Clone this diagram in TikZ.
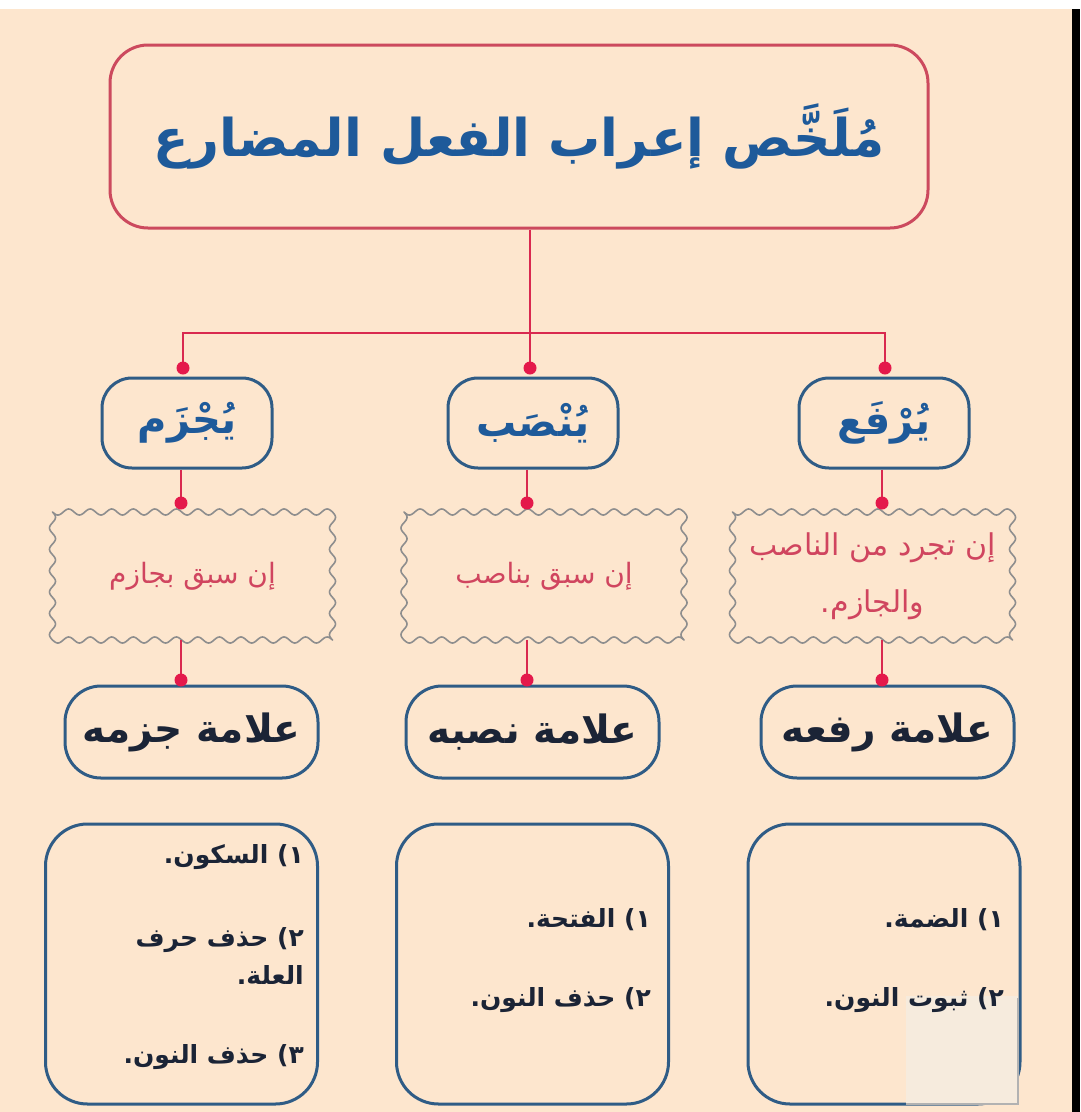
\documentclass[tikz,border=0pt]{standalone}
\usepackage{fontspec}
\newfontfamily\arabicfont[Script=Arabic]{DejaVu Sans}
\TeXXeTstate=1
\newcommand{\artext}[1]{\beginR #1\endR}
\definecolor{beige}{HTML}{FDE6CE}
\definecolor{patchc}{HTML}{F6EBDD}
\definecolor{titlered}{HTML}{CC4A5E}
\definecolor{linered}{HTML}{D9294F}
\definecolor{dotred}{HTML}{E4194B}
\definecolor{bblue}{HTML}{2F5C86}
\definecolor{titleblue}{HTML}{1E5A9A}
\definecolor{wgray}{HTML}{8E8E8E}
\definecolor{wtext}{HTML}{D0455F}
\definecolor{dark}{HTML}{1B2436}
\tikzset{
  titlebox/.style={draw=titlered, line width=3pt, rounded corners=38pt, minimum width=818pt, minimum height=183pt, inner sep=0pt, text=titleblue, font=\arabicfont\bfseries\fontsize{52}{60}\selectfont},
  verbbox/.style={draw=bblue, line width=3pt, rounded corners=30pt, minimum width=170pt, minimum height=90pt, inner sep=0pt, text=titleblue, font=\arabicfont\bfseries\fontsize{40}{44}\selectfont},
  wavybox/.style={minimum width=280pt, minimum height=128pt, inner sep=0pt, text=wtext, align=center},
  wavyline/.style={draw=wgray, line width=1.6pt, line join=round},
  markbox/.style={draw=bblue, line width=3pt, rounded corners=36pt, minimum width=253pt, minimum height=92pt, inner sep=0pt, text=dark, font=\arabicfont\bfseries\fontsize{39}{44}\selectfont},
  listbox/.style={draw=bblue, line width=3pt, rounded corners=42pt, minimum width=272pt, minimum height=280pt, inner sep=0pt},
  listtext/.style={anchor=east, inner sep=0pt, text=dark, font=\arabicfont\bfseries\fontsize{25}{30}\selectfont},
  conn/.style={draw=linered, line width=2.6pt},
  dot/.style={circle, fill=dotred, inner sep=0pt, minimum size=13pt}
}
% wavy frame of 280 x 128 centred on (#1,#2); 13 waves across, 6 waves down
\newcommand{\wavyframe}[2]{%
  \draw[wavyline]
    plot[domain=0:280, samples=281] ({#1-140+\x}, {#2-64+3*sin(16.7142857*\x)})
    -- plot[domain=0:128, samples=129] ({#1+140+3*sin(16.875*\x)}, {#2-64+\x})
    -- plot[domain=280:0, samples=281] ({#1-140+\x}, {#2+64+3*sin(16.7142857*\x)})
    -- plot[domain=128:0, samples=129] ({#1-140+3*sin(16.875*\x)}, {#2-64+\x}) -- cycle;}
\begin{document}
\begin{tikzpicture}[x=1pt,y=-1pt]
\useasboundingbox (0,0) rectangle (1080,1112);
\fill[white] (0,0) rectangle (1080,9);
\fill[beige] (0,9) rectangle (1072,1112);
\fill[black] (1072,9) rectangle (1080,1112);

% title
\node[titlebox] (title) at (519,136.5) {\artext{مُلَخَّص إعراب الفعل المضارع}};

% level 2 boxes
\node[verbbox] (jazm) at (187,423) {\artext{يُجْزَم}};
\node[verbbox] (nasb) at (533,423) {\artext{يُنْصَب}};
\node[verbbox] (raf) at (884,423) {\artext{يُرْفَع}};

% wavy condition boxes
\wavyframe{192.5}{576}
\wavyframe{544}{576}
\wavyframe{872.5}{576}
\node[wavybox, font=\arabicfont\fontsize{28}{34}\selectfont] (cjazm) at (192.5,576) {\artext{إن سبق بجازم}};
\node[wavybox, font=\arabicfont\fontsize{28}{34}\selectfont] (cnasb) at (544,576) {\artext{إن سبق بناصب}};
\node[wavybox, font=\arabicfont\fontsize{30}{57}\selectfont] (craf) at (872.5,576) {\artext{إن تجرد من الناصب}\\\artext{والجازم.}};

% mark boxes
\node[markbox] (mjazm) at (191.5,732) {\artext{علامة جزمه}};
\node[markbox] (mnasb) at (532.5,732) {\artext{علامة نصبه}};
\node[markbox] (mraf) at (887.5,732) {\artext{علامة رفعه}};

% list boxes
\node[listbox] (ljazm) at (181.5,964) {};
\node[listbox] (lnasb) at (532.5,964) {};
\node[listbox] (lraf) at (884,964) {};

% faded patch over the lower right corner
\fill[patchc] (906,996) rectangle (1018,1104);
\draw[gray!60, line width=1.2pt] (1018,998) -- (1018,1104) -- (906,1104);

% list texts
\node[listtext] (j1) at (304,857) {\artext{١) السكون.}};
\node[listtext] (j2) at (304,940) {\artext{٢) حذف حرف}};
\node[listtext] (j3) at (304,975) {\artext{العلة.}};
\node[listtext] (j4) at (304,1057) {\artext{٣) حذف النون.}};
\node[listtext] (n1) at (651,920) {\artext{١) الفتحة.}};
\node[listtext] (n2) at (651,1000) {\artext{٢) حذف النون.}};
\node[listtext] (r1) at (1004,920) {\artext{١) الضمة.}};
\node[listtext] (r2) at (1004,1000) {\artext{٢) ثبوت النون.}};

% coordinates and dots
\coordinate (hub) at (530,333);
\coordinate (dA1) at (183,368);
\coordinate (dB1) at (530,368);
\coordinate (dC1) at (885,368);
\coordinate (dA2) at (181,503);
\coordinate (dB2) at (527,503);
\coordinate (dC2) at (882,503);
\coordinate (dA3) at (181,680);
\coordinate (dB3) at (527,680);
\coordinate (dC3) at (882,680);

\draw[conn] (title.south -| hub) -- (hub);
\draw[conn] (dA1) |- (hub) -| (dC1);
\draw[conn] (hub) -- (dB1);
\draw[conn] (jazm.south -| dA2) -- (dA2);
\draw[conn] (nasb.south -| dB2) -- (dB2);
\draw[conn] (raf.south -| dC2) -- (dC2);
\draw[conn] (cjazm.south -| dA3) -- (dA3);
\draw[conn] (cnasb.south -| dB3) -- (dB3);
\draw[conn] (craf.south -| dC3) -- (dC3);

\foreach \d in {dA1,dB1,dC1,dA2,dB2,dC2,dA3,dB3,dC3}
  \node[dot] at (\d) {};
\end{tikzpicture}
\end{document}
